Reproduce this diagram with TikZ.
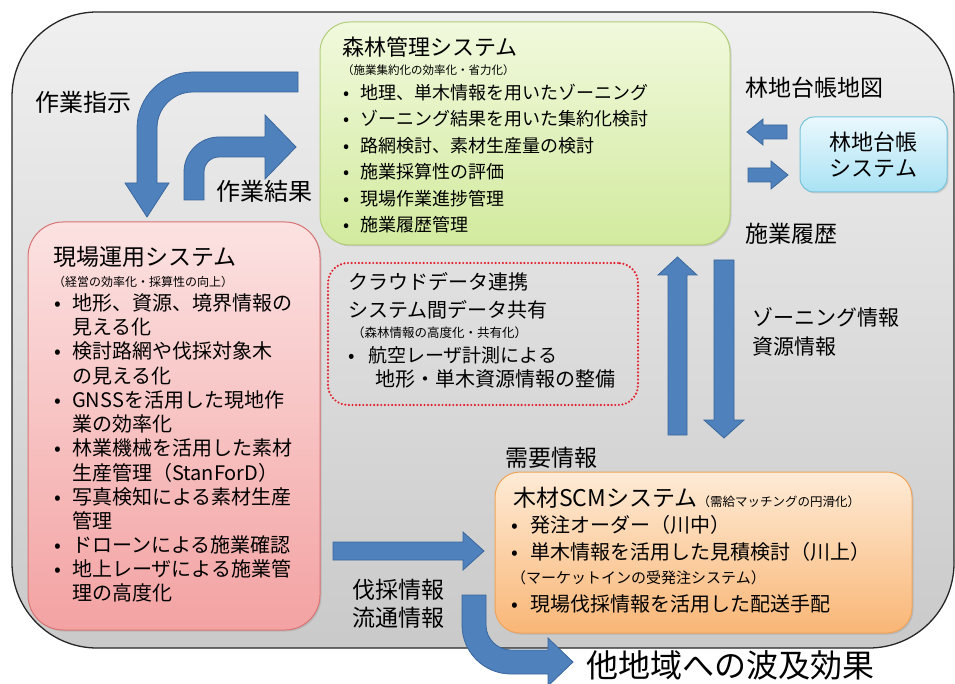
\documentclass[tikz,border=0pt]{standalone}
\usepackage{fontspec}
\setmainfont{Noto Sans CJK JP}
\usetikzlibrary{shadows}
\definecolor{arrfill}{HTML}{4F81BD}
\definecolor{arrline}{HTML}{3A679C}
\definecolor{greentop}{HTML}{F1F9DD}
\definecolor{greenbot}{HTML}{D2EA9E}
\definecolor{greenline}{HTML}{B2CE78}
\definecolor{pinktop}{HTML}{FCE2E2}
\definecolor{pinkbot}{HTML}{F3A2A2}
\definecolor{pinkline}{HTML}{D97373}
\definecolor{orgtop}{HTML}{FEEBD6}
\definecolor{orgbot}{HTML}{F9B676}
\definecolor{orgline}{HTML}{F0A45A}
\definecolor{cyantop}{HTML}{EAF8FD}
\definecolor{cyanbot}{HTML}{A9E2F4}
\definecolor{cyanline}{HTML}{78C4DC}
\definecolor{dotred}{HTML}{E3202C}
\newcommand{\fsz}[1]{\fontsize{#1}{#1}\selectfont}
\newcommand{\ks}{\vphantom{漢}}
\newcommand{\blt}[1]{\makebox[#1][l]{•}}
\tikzset{
  panel/.style={rectangle, rounded corners=#1, inner sep=0pt, line width=1pt,
    drop shadow={shadow xshift=1.5pt, shadow yshift=-1.5pt, opacity=0.25}},
  txt/.style={anchor=west, inner sep=0pt},
  blockarrow/.style={fill=arrfill, draw=arrline, line width=0.8pt, line join=miter},
}
\begin{document}
\begin{tikzpicture}[x=1pt,y=-1pt]
\useasboundingbox (0,0) rectangle (955,684);
% outer frame
\node[draw=black!85, line width=1.3pt, rounded corners=85pt, top color=black!6,
  bottom color=black!21, minimum width=942pt, minimum height=636pt, inner sep=0pt]
  (frame) at (483,330) {};

% panels
\node[panel=35pt, draw=pinkline, top color=pinktop, bottom color=pinkbot,
  minimum width=292pt, minimum height=408pt] (field) at (174,426) {};
\node[panel=30pt, draw=greenline, top color=greentop, bottom color=greenbot,
  minimum width=410pt, minimum height=223pt] (forest) at (525,133.5) {};
\node[panel=14pt, draw=cyanline, top color=cyantop, bottom color=cyanbot,
  minimum width=147pt, minimum height=75pt] (ledger) at (873.5,154.5) {};
\node[panel=25pt, draw=orgline, top color=orgtop, bottom color=orgbot,
  minimum width=417pt, minimum height=161pt] (scm) at (703.5,552.5) {};
\node[draw=dotred, line width=2.4pt, dash pattern=on 0pt off 3.6pt, line cap=round,
  rounded corners=20pt, minimum width=310pt, minimum height=142pt, inner sep=0pt]
  (cloud) at (483,334) {};

% forest management system text
\node[txt, font=\fsz{22}] (f0) at (342,47) {\ks 森林管理システム};
\node[txt, font=\fsz{11.5}] (f0s) at (342,70) {\ks （施業集約化の効率化・省力化）};
\node[txt, font=\fsz{18}] (f1) at (343,92.5) {\ks\blt{17pt}地理、単木情報を用いたゾーニング};
\node[txt, font=\fsz{18}] (f2) at (343,119) {\ks\blt{17pt}ゾーニング結果を用いた集約化検討};
\node[txt, font=\fsz{18}] (f3) at (343,145.5) {\ks\blt{17pt}路網検討、素材生産量の検討};
\node[txt, font=\fsz{18}] (f4) at (343,172) {\ks\blt{17pt}施業採算性の評価};
\node[txt, font=\fsz{18}] (f5) at (343,198.5) {\ks\blt{17pt}現場作業進捗管理};
\node[txt, font=\fsz{18}] (f6) at (343,225) {\ks\blt{17pt}施業履歴管理};

% field operation system text
\node[txt, font=\fsz{23}] (p0) at (53,257) {\ks 現場運用システム};
\node[txt, font=\fsz{12}] (p0s) at (53,282) {\ks （経営の効率化・採算性の向上）};
\node[txt, font=\fsz{20}] (p1) at (54,303) {\ks\blt{18pt}地形、資源、境界情報の};
\node[txt, font=\fsz{20}] (p2) at (72,327.2) {\ks 見える化};
\node[txt, font=\fsz{20}] (p3) at (54,351.4) {\ks\blt{18pt}検討路網や伐採対象木};
\node[txt, font=\fsz{20}] (p4) at (72,375.6) {\ks の見える化};
\node[txt, font=\fsz{20}] (p5) at (54,399.8) {\ks\blt{18pt}GNSSを活用した現地作};
\node[txt, font=\fsz{20}] (p6) at (72,424) {\ks 業の効率化};
\node[txt, font=\fsz{20}] (p7) at (54,448.2) {\ks\blt{18pt}林業機械を活用した素材};
\node[txt, font=\fsz{20}] (p8) at (72,472.4) {\ks 生産管理（StanForD）};
\node[txt, font=\fsz{20}] (p9) at (54,496.6) {\ks\blt{18pt}写真検知による素材生産};
\node[txt, font=\fsz{20}] (p10) at (72,520.8) {\ks 管理};
\node[txt, font=\fsz{20}] (p11) at (54,545) {\ks\blt{18pt}ドローンによる施業確認};
\node[txt, font=\fsz{20}] (p12) at (54,569.2) {\ks\blt{18pt}地上レーザによる施業管};
\node[txt, font=\fsz{20}] (p13) at (72,593.4) {\ks 理の高度化};

% cloud text
\node[txt, font=\fsz{20}] (c1) at (348,282) {\ks クラウドデータ連携};
\node[txt, font=\fsz{20}] (c2) at (348,310) {\ks システム間データ共有};
\node[txt, font=\fsz{12.5}] (c3) at (352,333) {\ks （森林情報の高度化・共有化）};
\node[txt, font=\fsz{19}] (c4) at (348,355) {\ks\blt{20pt}航空レーザ計測による};
\node[txt, font=\fsz{20}] (c5) at (375,378.5) {\ks 地形・単木資源情報の整備};

% ledger text
\node[font=\fsz{22}, inner sep=0pt] (l1) at (873.5,142) {\ks 林地台帳};
\node[font=\fsz{22}, inner sep=0pt] (l2) at (873.5,168) {\ks システム};

% scm text
\node[txt] (s0) at (513,498) {\ks\fsz{23}木材SCMシステム\fsz{12.5}（需給マッチングの円滑化）};
\node[txt, font=\fsz{20}] (s1) at (511,525) {\ks\blt{19pt}発注オーダー（川中）};
\node[txt, font=\fsz{20}] (s2) at (511,552) {\ks\blt{19pt}単木情報を活用した見積検討（川上）};
\node[txt, font=\fsz{15}] (s3) at (511,578) {\ks （マーケットインの受発注システム）};
\node[txt, font=\fsz{20}] (s4) at (511,604) {\ks\blt{19pt}現場伐採情報を活用した配送手配};

% labels
\node[txt, font=\fsz{24}] (lbA) at (35,102) {\ks 作業指示};
\node[txt, font=\fsz{24}] (lbB) at (216,191) {\ks 作業結果};
\node[txt, font=\fsz{23}] (lbC) at (745,88) {\ks 林地台帳地図};
\node[txt, font=\fsz{23}] (lbD) at (745,234) {\ks 施業履歴};
\node[txt, font=\fsz{21}] (lbE) at (752,317) {\ks ゾーニング情報};
\node[txt, font=\fsz{21}] (lbF) at (752,347) {\ks 資源情報};
\node[txt, font=\fsz{23}] (lbG) at (505,458) {\ks 需要情報};
\node[txt, font=\fsz{23}] (lbH) at (352,590) {\ks 伐採情報};
\node[txt, font=\fsz{23}] (lbI) at (352,618) {\ks 流通情報};
\node[txt, font=\fsz{32}] (lbJ) at (586,665) {\ks 他地域への波及効果};

% block arrows
\draw[blockarrow] (298,72) -- (193,72) .. controls (162.1,72) and (137,97.1) .. (137,128)
  -- (137,183) -- (125,183) -- (147,217) -- (169,183) -- (157,183) -- (157,128)
  .. controls (157,108.1) and (173.1,92) .. (193,92) -- (298,92) -- cycle;
\draw[blockarrow] (184,200) -- (184,172) .. controls (184,152.7) and (199.7,137) .. (219,137)
  -- (265,137) -- (265,115) -- (296,147) -- (265,179) -- (265,157) -- (219,157)
  .. controls (210.7,157) and (204,163.7) .. (204,172) -- (204,200) -- cycle;
\draw[blockarrow] (787,125) -- (763,125) -- (763,119) -- (747,132) -- (763,145) -- (763,139) -- (787,139) -- cycle;
\draw[blockarrow] (748,168) -- (771,168) -- (771,161) -- (788,175) -- (771,189) -- (771,182) -- (748,182) -- cycle;
\draw[blockarrow] (668,435) -- (668,275) -- (658,275) -- (677.5,257) -- (697,275) -- (687,275) -- (687,435) -- cycle;
\draw[blockarrow] (714,260) -- (734,260) -- (734,420) -- (744,420) -- (724,438) -- (704,420) -- (714,420) -- cycle;
\draw[blockarrow] (333,542) -- (463,542) -- (463,532) -- (484,551) -- (463,570) -- (463,560) -- (333,560) -- cycle;
\draw[blockarrow] (462,595) -- (462,625) .. controls (462,652.1) and (483.9,674) .. (511,674)
  -- (548,674) -- (548,686) -- (573,662) -- (548,638) -- (548,650) -- (511,650)
  .. controls (497.2,650) and (486,638.8) .. (486,625) -- (486,595) -- cycle;
\end{tikzpicture}
\end{document}
